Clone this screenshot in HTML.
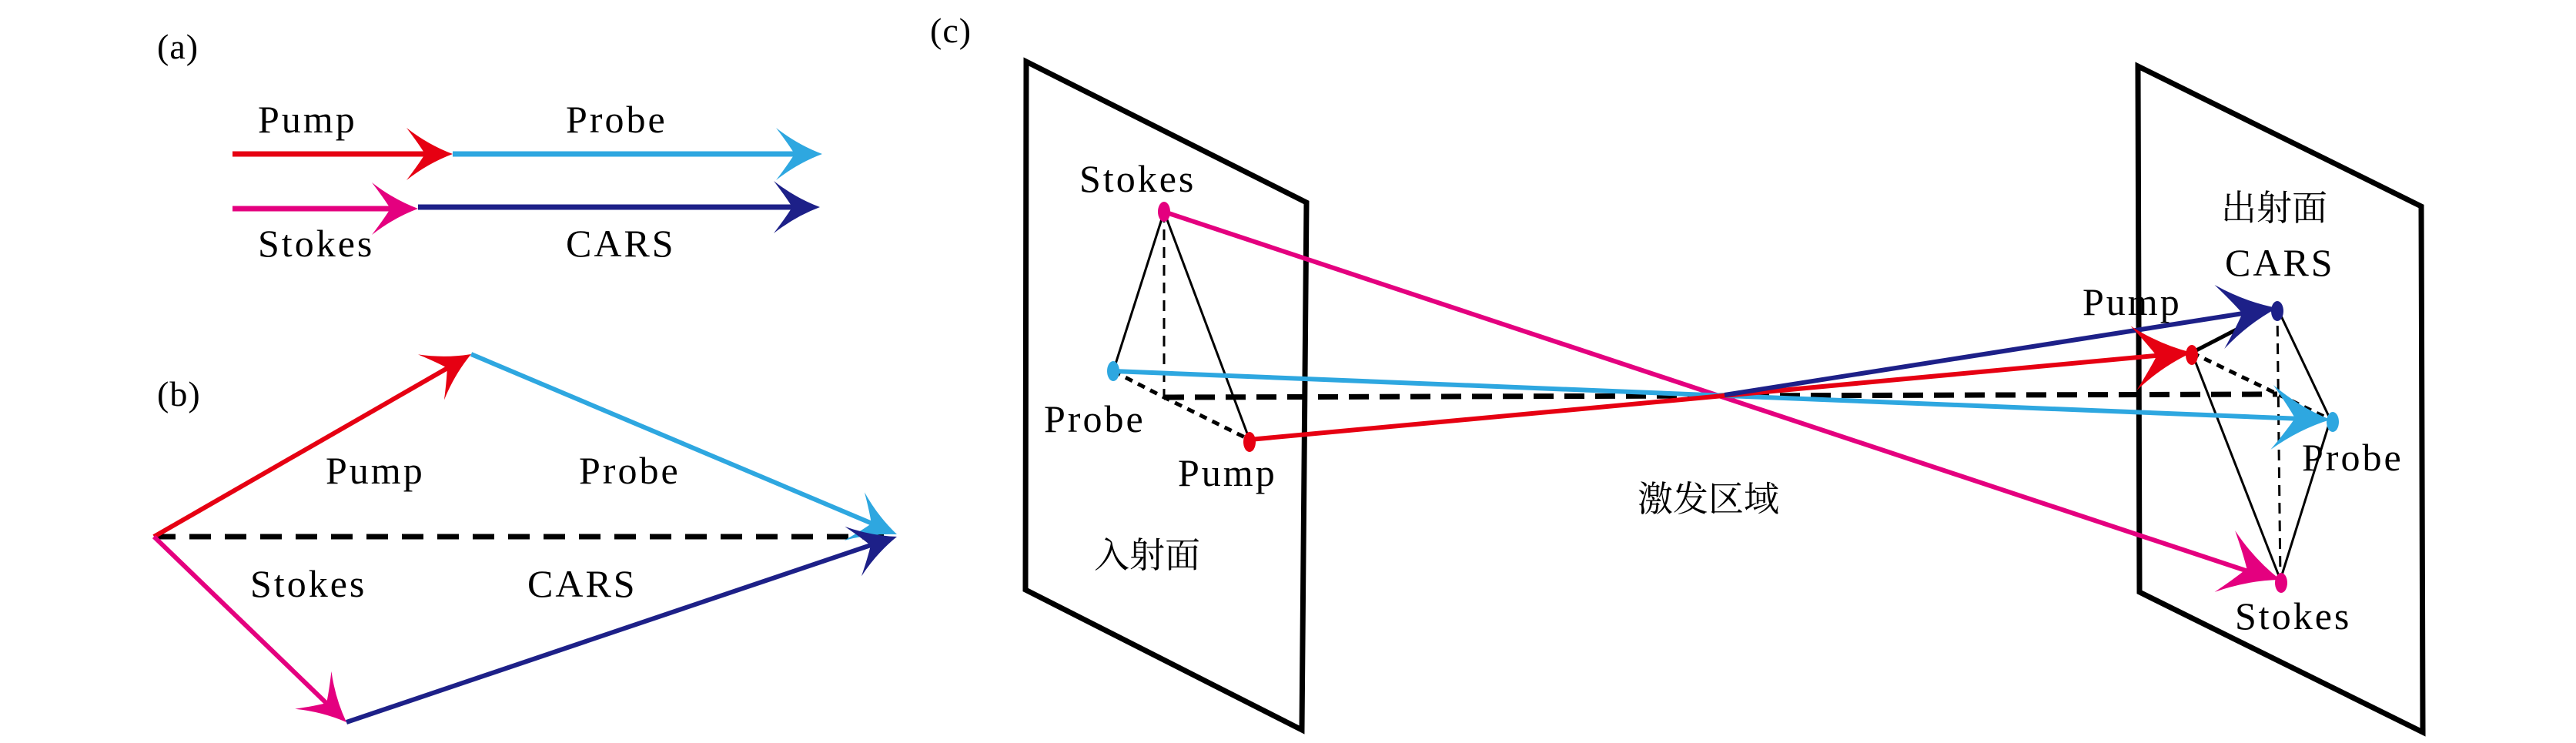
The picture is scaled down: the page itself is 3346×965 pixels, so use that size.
<!DOCTYPE html>
<html><head><meta charset="utf-8"><style>
html,body{margin:0;padding:0;background:#fff;}
svg{display:block;}
</style></head><body>
<svg width="3346" height="965" viewBox="0 0 3346 965" xmlns="http://www.w3.org/2000/svg" font-family="'Liberation Serif','DejaVu Serif',serif" font-size="50" letter-spacing="3">
<defs>
<path id="ah" d="M0,0 Q-32,-12 -60,-34 Q-44,-13 -36,0 Q-44,13 -60,34 Q-32,12 0,0 Z"/>
<path id="ahL" d="M0,0 Q-40,-14 -76,-42 Q-56,-16 -46,0 Q-56,16 -76,42 Q-40,14 0,0 Z"/>
</defs>
<g stroke-linecap="butt" fill="none">
<line x1="302" y1="200" x2="560" y2="200" stroke="#e60012" stroke-width="7"/>
<line x1="588" y1="200" x2="1040" y2="200" stroke="#2ea7e0" stroke-width="7"/>
<line x1="302" y1="271" x2="515" y2="271" stroke="#e4007f" stroke-width="7"/>
<line x1="543" y1="269" x2="1040" y2="269" stroke="#1d2088" stroke-width="7"/>
<line x1="200" y1="697" x2="1165" y2="697" stroke="#000" stroke-width="7" stroke-dasharray="28,18"/>
<line x1="200" y1="697" x2="590" y2="473" stroke="#e60012" stroke-width="6"/>
<line x1="612" y1="460" x2="1140" y2="683" stroke="#2ea7e0" stroke-width="6"/>
<line x1="200" y1="697" x2="432" y2="921" stroke="#e4007f" stroke-width="6"/>
<line x1="450" y1="938" x2="1140" y2="705" stroke="#1d2088" stroke-width="6"/>
<polygon points="1333,80 1697,263 1691,948 1332,766" stroke="#000" stroke-width="7"/>
<polygon points="2777,86 3145,268 3147,951 2779,769" stroke="#000" stroke-width="7"/>
<line x1="1512" y1="275" x2="1446" y2="482" stroke="#000" stroke-width="3"/>
<line x1="1512" y1="275" x2="1623" y2="571" stroke="#000" stroke-width="3"/>
<line x1="1512" y1="275" x2="1512" y2="516" stroke="#000" stroke-width="3" stroke-dasharray="14,9"/>
<polyline points="1446,482 1512,516 1623,571" stroke="#000" stroke-width="5" stroke-dasharray="10,8"/>
<line x1="1512" y1="516" x2="2958" y2="512" stroke="#000" stroke-width="7" stroke-dasharray="26,14"/>
<line x1="2847" y1="458" x2="2905" y2="428" stroke="#000" stroke-width="5"/>
<line x1="2958" y1="400" x2="3027" y2="545" stroke="#000" stroke-width="3"/>
<line x1="2847" y1="458" x2="2962" y2="753" stroke="#000" stroke-width="3"/>
<line x1="3027" y1="545" x2="2962" y2="753" stroke="#000" stroke-width="3"/>
<line x1="2958" y1="400" x2="2962" y2="753" stroke="#000" stroke-width="3" stroke-dasharray="14,9"/>
<line x1="2847" y1="458" x2="3027" y2="545" stroke="#000" stroke-width="5" stroke-dasharray="10,8"/>
<line x1="1512" y1="275" x2="2920" y2="742" stroke="#e4007f" stroke-width="6"/>
<line x1="1446" y1="482" x2="2990" y2="544" stroke="#2ea7e0" stroke-width="6"/>
<line x1="1623" y1="571" x2="2810" y2="461" stroke="#e60012" stroke-width="6"/>
<line x1="2240" y1="513" x2="2920" y2="406" stroke="#1d2088" stroke-width="6"/>
</g>
<use href="#ah" transform="translate(588,200)" fill="#e60012"/>
<use href="#ah" transform="translate(1068,200)" fill="#2ea7e0"/>
<use href="#ah" transform="translate(543,271)" fill="#e4007f"/>
<use href="#ah" transform="translate(1065,269)" fill="#1d2088"/>
<use href="#ah" transform="translate(612,460) rotate(-29.9)" fill="#e60012"/>
<use href="#ah" transform="translate(1165,694) rotate(22.9)" fill="#2ea7e0"/>
<use href="#ah" transform="translate(450,938) rotate(44)" fill="#e4007f"/>
<use href="#ah" transform="translate(1165,697) rotate(-18.6)" fill="#1d2088"/>
<use href="#ahL" transform="translate(2958,400) rotate(-8.7)" fill="#1d2088"/>
<use href="#ahL" transform="translate(2847,458) rotate(-5.4)" fill="#e60012"/>
<use href="#ahL" transform="translate(3027,545) rotate(2.3)" fill="#2ea7e0"/>
<use href="#ahL" transform="translate(2962,753) rotate(18.4)" fill="#e4007f"/>
<ellipse cx="1512" cy="275" rx="8" ry="13" fill="#e4007f"/>
<ellipse cx="1446" cy="482" rx="8" ry="13" fill="#2ea7e0"/>
<ellipse cx="1623" cy="574" rx="8" ry="13" fill="#e60012"/>
<ellipse cx="2958" cy="404" rx="8" ry="13" fill="#1d2088"/>
<ellipse cx="2847" cy="461" rx="8" ry="13" fill="#e60012"/>
<ellipse cx="3030" cy="548" rx="8" ry="13" fill="#2ea7e0"/>
<ellipse cx="2963" cy="757" rx="8" ry="13" fill="#e4007f"/>
<g font-size="46" letter-spacing="1">
<text x="204" y="76">(a)</text>
<text x="204" y="527">(b)</text>
<text x="1208" y="55">(c)</text>
</g>
<text x="335" y="172">Pump</text>
<text x="735" y="172">Probe</text>
<text x="335" y="333">Stokes</text>
<text x="735" y="333">CARS</text>
<text x="423" y="628">Pump</text>
<text x="752" y="628">Probe</text>
<text x="325" y="775">Stokes</text>
<text x="685" y="775">CARS</text>
<text x="1402" y="249">Stokes</text>
<text x="1356" y="561">Probe</text>
<text x="1530" y="631">Pump</text>
<text x="2890" y="358">CARS</text>
<text x="2705" y="409">Pump</text>
<text x="2990" y="611">Probe</text>
<text x="2903" y="817">Stokes</text>
<g font-family="'Noto Serif CJK SC','Noto Sans CJK SC',serif" font-size="46" letter-spacing="0">
<text x="1421" y="737">入射面</text>
<text x="2127" y="664">激发区域</text>
<text x="2885" y="286">出射面</text>
</g>
</svg>
</body></html>
